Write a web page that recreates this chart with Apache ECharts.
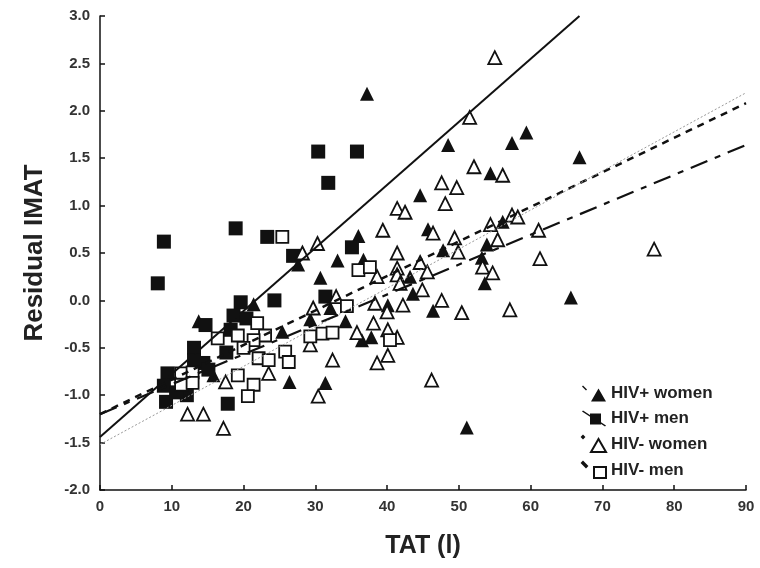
<!DOCTYPE html>
<html>
<head>
<meta charset="utf-8">
<script src="https://cdn.jsdelivr.net/npm/echarts@6/dist/echarts.min.js"></script>
<style>html,body{margin:0;padding:0;background:#fff}#c{width:760px;height:568px}</style>
</head>
<body>
<div id="c"></div>
<script>
// ---- data (TAT in litres, residual IMAT) ----
const hivPosWomen = [
  [37.2,2.18],[48.5,1.64],[59.4,1.77],[57.4,1.66],[66.8,1.51],[54.4,1.34],[44.6,1.11],
  [45.7,0.75],[56.1,0.83],[53.9,0.59],[47.8,0.53],[53.2,0.45],[53.6,0.18],[65.6,0.03],
  [51.1,-1.34],[36.0,0.68],[36.7,0.43],[33.1,0.42],[27.6,0.38],[43.2,0.25],[30.7,0.24],
  [43.6,0.07],[46.4,-0.11],[40.1,-0.05],[32.1,-0.08],[29.3,-0.2],[34.2,-0.22],[25.4,-0.33],
  [36.5,-0.42],[37.8,-0.39],[26.4,-0.86],[31.4,-0.87],[21.4,-0.04],[13.75,-0.22],[15.8,-0.79]
];
const hivPosMen = [
  [30.4,1.57],[35.8,1.57],[31.8,1.24],[18.9,0.76],[8.9,0.62],[23.3,0.67],[26.9,0.47],
  [35.1,0.56],[8.05,0.18],[24.3,0.0],[19.6,-0.02],[31.4,0.04],[18.6,-0.16],[18.2,-0.31],
  [14.7,-0.26],[13.1,-0.5],[17.6,-0.55],[14.4,-0.66],[13.1,-0.63],[9.4,-0.77],[9.2,-1.07],
  [17.8,-1.09],[12.1,-1.0],[8.9,-0.9],[15.1,-0.73],[10.6,-0.97],[20.4,-0.19]
];
const hivNegWomen = [
  [55.0,2.56],[51.5,1.93],[52.1,1.41],[56.1,1.32],[47.6,1.24],[49.7,1.19],[48.1,1.02],
  [41.4,0.97],[42.5,0.93],[57.4,0.9],[58.2,0.88],[54.4,0.8],[61.1,0.74],[39.4,0.74],
  [46.4,0.71],[49.4,0.66],[55.4,0.64],[49.9,0.51],[77.2,0.54],[41.4,0.5],[30.3,0.6],
  [28.2,0.5],[61.3,0.44],[53.3,0.35],[54.7,0.29],[44.6,0.4],[45.6,0.3],[41.4,0.34],
  [41.4,0.27],[38.6,0.25],[41.8,0.18],[44.9,0.11],[47.6,0.0],[50.4,-0.13],[57.1,-0.1],
  [38.3,-0.03],[40.0,-0.12],[42.2,-0.05],[32.9,0.04],[29.7,-0.08],[38.1,-0.24],[35.8,-0.34],
  [40.1,-0.31],[41.4,-0.39],[40.1,-0.58],[38.6,-0.66],[32.4,-0.63],[29.3,-0.47],[46.2,-0.84],
  [30.4,-1.01],[23.5,-0.77],[17.5,-0.86],[12.2,-1.2],[14.4,-1.2],[17.2,-1.35]
];
const hivNegMen = [
  [25.4,0.67],[36.0,0.32],[37.6,0.35],[34.4,-0.06],[29.3,-0.38],[31.0,-0.35],[32.4,-0.34],
  [40.4,-0.42],[25.8,-0.54],[26.3,-0.65],[23.0,-0.37],[21.9,-0.24],[16.4,-0.4],[19.2,-0.37],
  [21.4,-0.42],[20.0,-0.5],[22.1,-0.61],[23.5,-0.63],[19.2,-0.79],[11.3,-0.77],[12.9,-0.76],
  [11.3,-0.89],[12.9,-0.87],[21.4,-0.89],[20.6,-1.01]
];
// regression lines (endpoints)
const fitPosWomen = [[0,-1.2],[90,2.08]];
const fitPosMen = [[0,-1.44],[66.8,3.0]];
const fitNegWomen = [[0,-1.52],[90,2.19]];
const fitNegMen = [[0,-1.2],[90,1.64]];
const seriesNames = ['HIV+ women','HIV+ men','HIV- women','HIV- men'];
const xTicks = {min:0, max:90, step:10};
const yTicks = {min:-2, max:3, step:0.5};

const ink = '#111';
const font = '"Liberation Sans", Arial, sans-serif';
const chart = echarts.init(document.getElementById('c'), null, {renderer:'canvas'});

const icons = {
  'HIV+ women': 'path://M0,1 L1,0 L5,4 L4,5 Z M9,16 L16.5,3 L24,16 Z',
  'HIV+ men': 'path://M0,1 L1,0 L24,15 L23,16 Z M8,3 L19,3 L19,14 L8,14 Z',
  'HIV- women': 'path://M0,1 L1,0 L2,1 L1,2 Z M9,16 L16.5,3 L24,16 Z',
  'HIV- men': 'path://M0,1 L1,0 L5,4 L4,5 Z M12,5 L24,5 L24,16 L12,16 Z'
};

function scatter(name, data, symbol, filled, size) {
  return {
    name, type:'scatter', data, symbol, symbolSize:size, z:3,
    itemStyle: filled ? {color:ink, opacity:1} : {color:'#fff', borderColor:ink, borderWidth:1.8, opacity:1},
    emphasis:{disabled:true}
  };
}
function fit(data, width, type, color) {
  return {
    type:'line', data, showSymbol:false, symbol:'none', z:4, silent:true,
    lineStyle:{color, width, type}
  };
}

chart.setOption({
  animation:false,
  backgroundColor:'#fff',
  grid:{left:100, right:14, top:16, bottom:78},
  xAxis:{
    type:'value', min:xTicks.min, max:xTicks.max, interval:xTicks.step,
    name:'TAT (l)', nameLocation:'middle', nameGap:44,
    nameTextStyle:{fontFamily:font, fontWeight:'bold', fontSize:25, color:'#222'},
    axisLine:{onZero:false, lineStyle:{color:ink, width:1.5}},
    axisTick:{inside:true, length:5, lineStyle:{color:ink, width:1.5}},
    axisLabel:{fontFamily:font, fontWeight:'bold', fontSize:15, color:'#333', margin:9},
    splitLine:{show:false}
  },
  yAxis:{
    type:'value', min:yTicks.min, max:yTicks.max, interval:yTicks.step,
    name:'Residual IMAT', nameLocation:'middle', nameGap:52,
    nameTextStyle:{fontFamily:font, fontWeight:'bold', fontSize:26, color:'#222'},
    axisLine:{show:true, onZero:false, lineStyle:{color:ink, width:1.5}},
    axisTick:{show:true, inside:true, length:5, lineStyle:{color:ink, width:1.5}},
    axisLabel:{fontFamily:font, fontWeight:'bold', fontSize:15, color:'#333', margin:10,
      formatter:v=>v.toFixed(1)},
    splitLine:{show:false}
  },
  legend:{
    orient:'vertical', left:576, top:380, itemWidth:24, itemHeight:16, itemGap:8,
    itemStyle:{},
    data: seriesNames.map(n=>({name:n, icon:icons[n]})),
    textStyle:{fontFamily:font, fontWeight:'bold', fontSize:17, color:'#222'},
    selectedMode:false
  },
  series:[
    scatter(seriesNames[0], hivPosWomen, 'triangle', true, 14),
    scatter(seriesNames[1], hivPosMen, 'rect', true, 14),
    scatter(seriesNames[2], hivNegWomen, 'triangle', false, 13),
    scatter(seriesNames[3], hivNegMen, 'rect', false, 12),
    fit(fitPosWomen, 2.5, [7,6], ink),
    fit(fitPosMen, 2, 'solid', ink),
    fit(fitNegWomen, 1, [2,2], '#999'),
    fit(fitNegMen, 2.2, [18,8,6,8], ink)
  ]
});
</script>
</body>
</html>
